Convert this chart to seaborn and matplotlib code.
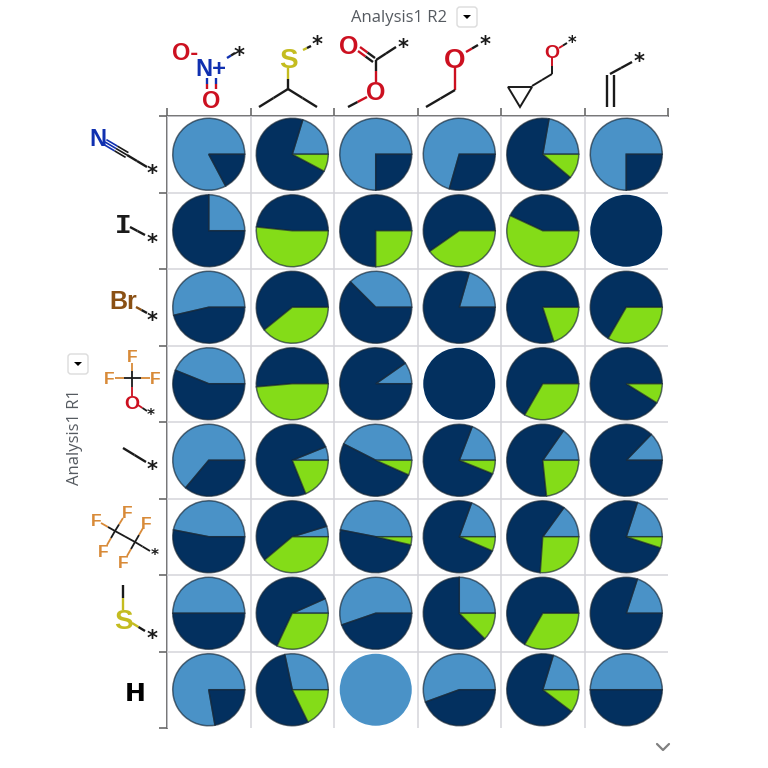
import numpy as np
import matplotlib
matplotlib.use("Agg")
import matplotlib.pyplot as plt
from matplotlib.patches import FancyBboxPatch, Polygon
import seaborn as sns

# Slice sizes, in degrees. One row per R1 group, one column per R2 group.
r1_groups = ["CN", "I", "Br", "OCF3", "Me", "C2F5", "SMe", "H"]
r2_groups = ["NO2", "S-iPr", "OAc", "OEt", "OCH2cPr", "vinyl"]
light_share = [
    [298, 73, 270, 254, 80, 270],
    [90, 0, 0, 0, 0, 0],
    [193, 0, 135, 74, 0, 0],
    [158, 0, 35, 0, 0, 0],
    [230, 22, 153, 69, 55, 46],
    [169, 17, 169, 70, 54, 72],
    [180, 24, 199, 90, 0, 72],
    [280, 102, 360, 200, 73, 180],
]
navy_share = [
    [62, 259, 90, 106, 240, 90],
    [270, 174, 270, 215, 155, 360],
    [167, 219, 225, 286, 288, 240],
    [202, 185, 325, 360, 240, 328],
    [130, 270, 183, 269, 221, 314],
    [191, 203, 178, 267, 212, 270],
    [180, 221, 161, 225, 240, 288],
    [80, 194, 0, 160, 250, 180],
]
green_share = [
    [0, 28, 0, 0, 40, 0],
    [0, 186, 90, 145, 205, 0],
    [0, 141, 0, 0, 72, 120],
    [0, 175, 0, 0, 120, 32],
    [0, 68, 24, 22, 84, 0],
    [0, 140, 13, 23, 94, 18],
    [0, 115, 0, 45, 120, 0],
    [0, 64, 0, 0, 37, 0],
]
slice_colors = ["#4a92c7", "#03305f", "#84dc18"]

BLACK = "#1a1a1a"
RED = "#cc1020"
BLUE = "#1030b0"
YELLOW = "#c4bc20"
BROWN = "#8a5014"
ORANGE = "#d88a38"
DPI = 100
FONT = "Liberation Sans"


def draw_pie(ax, light, navy, green):
    """Draw one cell's pie, starting at 3 o'clock and going counterclockwise."""
    sizes = [light, navy, green]
    keep = [i for i in range(3) if sizes[i] > 0]
    lw = 1.1 if len(keep) > 1 else 0
    ax.pie(
        [sizes[i] for i in keep],
        colors=[slice_colors[i] for i in keep],
        startangle=0,
        radius=1.0,
        wedgeprops={"edgecolor": (0.08, 0.14, 0.2, 0.65), "linewidth": lw},
    )
    ax.set_xlim(-1.0625, 1.0625)
    ax.set_ylim(-1.0625, 1.0625)


def bond(ax, x1, y1, x2, y2, c1=BLACK, c2=None, lw=1.7):
    """Line between two atoms, changing colour half way like a chemical drawing."""
    c2 = c2 or c1
    xm, ym = (x1 + x2) / 2, (y1 + y2) / 2
    ax.plot([x1, xm], [y1, ym], color=c1, lw=lw, solid_capstyle="butt")
    ax.plot([xm, x2], [ym, y2], color=c2, lw=lw, solid_capstyle="butt")


def atom(ax, label, x, y, color=BLACK, size=17, family=FONT):
    """Atom label centred on x, y by its capital height."""
    em = size * DPI / 72
    ax.text(x, y + 0.36 * em, label, color=color, fontsize=size, fontweight="bold",
            ha="center", va="baseline", family=family)


def star(ax, x, y, size=15):
    """Attachment point asterisk centred on x, y."""
    em = size * DPI / 72
    ax.text(x, y + 0.46 * em, "*", color=BLACK, fontsize=size, fontweight="bold",
            ha="center", va="baseline", family="DejaVu Sans")


def draw_column_headers(ax):
    # nitro
    atom(ax, "O-", 185, 52, RED)
    atom(ax, "N+", 211, 68, BLUE)
    atom(ax, "O", 211, 99, RED)
    bond(ax, 207, 78, 207, 89, BLUE, RED)
    bond(ax, 216, 78, 216, 89, BLUE, RED)
    bond(ax, 227, 58, 235, 53, BLUE, BLACK)
    star(ax, 239, 52)
    # isopropyl thio
    atom(ax, "S", 288, 58, YELLOW, 20)
    star(ax, 317, 41)
    bond(ax, 303, 50, 311, 46, YELLOW, BLACK)
    bond(ax, 288, 68, 288, 89, YELLOW, BLACK)
    bond(ax, 288, 89, 259, 107)
    bond(ax, 288, 89, 317, 107)
    # ester
    atom(ax, "O", 349, 45, RED, 18)
    atom(ax, "O", 376, 91, RED, 18)
    star(ax, 403, 44)
    bond(ax, 360, 47, 375, 58, RED, BLACK)
    bond(ax, 358, 51, 373, 62, RED, BLACK)
    bond(ax, 376, 60, 396, 47)
    bond(ax, 376, 60, 376, 82, BLACK, RED)
    bond(ax, 367, 97, 348, 107, RED, BLACK)
    # ethoxy
    atom(ax, "O", 455, 58, RED, 20)
    star(ax, 485, 41)
    bond(ax, 466, 52, 478, 45, RED, BLACK)
    bond(ax, 455, 67, 455, 90, RED, RED)
    bond(ax, 455, 90, 426, 107)
    # cyclopropylmethoxy
    atom(ax, "O", 552, 51, RED, 14)
    star(ax, 572, 40, 12)
    bond(ax, 559, 48, 567, 43, RED, BLACK, 1.4)
    bond(ax, 552, 57, 552, 74, RED, BLACK, 1.4)
    bond(ax, 552, 74, 532, 86, lw=1.4)
    ax.add_patch(Polygon([(508, 87), (532, 87), (520, 107)], fill=False, ec=BLACK, lw=1.4))
    # vinyl
    star(ax, 639, 58)
    bond(ax, 610, 74, 632, 62)
    bond(ax, 607, 75, 607, 107)
    bond(ax, 614, 75, 614, 107)


def draw_row_headers(ax):
    # nitrile
    atom(ax, "N", 98, 138, BLUE)
    for off in (-2.8, 0, 2.8):
        bond(ax, 105 + off * 0.5, 142 - off * 0.85, 127 + off * 0.5, 155 - off * 0.85, BLUE, BLACK, 1.2)
    bond(ax, 127, 155, 147, 167)
    star(ax, 152, 170)
    # iodine
    atom(ax, "I", 123, 223, BLACK, 20, "Liberation Mono")
    bond(ax, 130, 227, 145, 235)
    star(ax, 152, 239)
    # bromine
    atom(ax, "Br", 123, 300, BROWN, 18)
    bond(ax, 136, 307, 147, 313, BROWN, BLACK)
    star(ax, 152, 317)
    # trifluoromethoxy
    atom(ax, "F", 132, 356, ORANGE, 12.5)
    atom(ax, "F", 109, 378, ORANGE, 12.5)
    atom(ax, "F", 155, 378, ORANGE, 12.5)
    atom(ax, "O", 132, 402, RED, 14)
    bond(ax, 132, 363, 132, 378, ORANGE, BLACK, 1.3)
    bond(ax, 115, 378, 132, 378, ORANGE, BLACK, 1.3)
    bond(ax, 150, 378, 132, 378, ORANGE, BLACK, 1.3)
    bond(ax, 132, 378, 132, 396, BLACK, RED, 1.3)
    bond(ax, 138, 405, 147, 411, RED, BLACK, 1.3)
    star(ax, 151, 413, 11)
    # methyl
    bond(ax, 123, 448, 146, 462)
    star(ax, 152, 466)
    # pentafluoroethyl
    for x, y in [(96, 520), (127, 512), (146, 523), (103, 551), (123, 562)]:
        atom(ax, "F", x, y, ORANGE, 12.5)
    bond(ax, 101, 523, 115, 531, ORANGE, BLACK, 1.3)
    bond(ax, 123, 518, 115, 531, ORANGE, BLACK, 1.3)
    bond(ax, 107, 545, 115, 531, ORANGE, BLACK, 1.3)
    bond(ax, 115, 531, 135, 542, lw=1.3)
    bond(ax, 135, 542, 150, 551, lw=1.3)
    bond(ax, 143, 528, 135, 542, ORANGE, BLACK, 1.3)
    bond(ax, 127, 556, 135, 542, ORANGE, BLACK, 1.3)
    star(ax, 155, 553, 11)
    # methyl thio
    bond(ax, 123, 585, 123, 610, BLACK, YELLOW)
    atom(ax, "S", 123, 619, YELLOW, 20)
    bond(ax, 132, 623, 145, 631, YELLOW, BLACK)
    star(ax, 152, 635)
    # hydrogen
    atom(ax, "H", 135, 692, "black", 18, "DejaVu Sans")


def draw_dropdown(ax, x, y):
    """Small rounded filter button with a black arrow."""
    ax.add_patch(FancyBboxPatch((x - 8, y - 8), 16, 16, boxstyle="round,pad=2,rounding_size=3",
                                fc="white", ec="#dcdcdc", lw=1))
    ax.add_patch(Polygon([(x - 4, y - 2), (x + 4, y - 2), (x, y + 2)], fc="black", ec="none"))


sns.set_style("white")
fig = plt.figure(figsize=(7.68, 7.68), dpi=DPI)
ax = fig.add_axes([167 / 768, 40 / 768, 501 / 768, 612 / 768])

n_rows, n_cols = len(r1_groups), len(r2_groups)
blank = np.zeros((n_rows, n_cols))
sns.heatmap(blank, cmap=["white"], cbar=False, xticklabels=False, yticklabels=False, ax=ax)

# axes frame only on top and left, light grid inside
ax.set_xticks(np.arange(n_cols + 1))
ax.set_yticks(np.arange(n_rows + 1))
ax.set_xticklabels([])
ax.set_yticklabels([])
ax.tick_params(axis="both", length=5.8, width=1.2, color="#6a6a6a", top=True, bottom=False,
               left=True, right=False)
ax.set_axisbelow(False)
ax.grid(True, color="#d4d4da", lw=1.1)
ax.get_xgridlines()[-1].set_visible(False)
ax.get_ygridlines()[-1].set_visible(False)
for side, spine in ax.spines.items():
    spine.set_visible(side in ("top", "left"))
    spine.set_color("#6a6a6a")
    spine.set_linewidth(1.3)

for r in range(n_rows):
    for c in range(n_cols):
        cell = ax.inset_axes([c / n_cols, 1 - (r + 1) / n_rows, 1 / n_cols, 1 / n_rows])
        cell.patch.set_alpha(0)
        draw_pie(cell, light_share[r][c], navy_share[r][c], green_share[r][c])

# overlay in picture pixels for the structures and the surrounding controls
over = fig.add_axes([0, 0, 1, 1], zorder=5)
over.set_xlim(0, 768)
over.set_ylim(768, 0)
over.axis("off")
over.patch.set_alpha(0)

draw_column_headers(over)
draw_row_headers(over)

over.text(399, 18, "Analysis1 R2", fontsize=12, color="#555a60", ha="center", va="center",
          family="Open Sans")
over.text(75, 437, "Analysis1 R1", fontsize=12, color="#555a60", ha="center", va="center",
          rotation=90, family="Open Sans")
draw_dropdown(over, 467, 17)
draw_dropdown(over, 78, 364)
over.plot([657, 663, 669], [744, 750, 744], color="#808080", lw=1.6)

fig.savefig("out.png", dpi=DPI)
